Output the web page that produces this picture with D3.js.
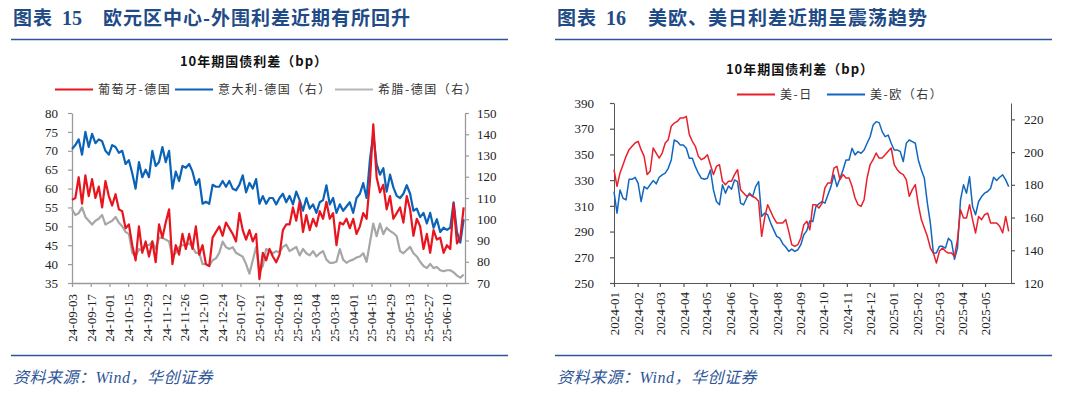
<!DOCTYPE html>
<html>
<head>
<meta charset="utf-8">
<script src="https://cdn.jsdelivr.net/npm/d3@7"></script>
<style>
  body { margin: 0; background: #fff; }
  svg { display: block; background: #fff; }
  .axis text { font-family: "Liberation Serif", "Times New Roman", serif; font-size: 13px; fill: #222; }
</style>
</head>
<body>
<div id="chartArea"></div>
<script>
// 图表15: 葡萄牙/意大利/希腊 - 德国 10年期利差
var leftStart = '2024-09-03', leftEnd = '2025-06-23', leftAxisEnd = '2025-06-24';
var leftTickLabels = ['24-09-03','24-09-17','24-10-01','24-10-15','24-10-29','24-11-12','24-11-26','24-12-10','24-12-24','25-01-07',
  '25-01-21','25-02-04','25-02-18','25-03-04','25-03-18','25-04-01','25-04-15','25-04-29','25-05-13','25-05-27','25-06-10'];
var ptDe = [57,57.5,63,56,63.5,58,62.5,57.5,60.5,55, 62,58,55.5,58.5,54.5,54,49.5,50.5,45,41,
  50,43,46,42,46,40.5,50.5,47,51,54.5, 40,45,42.5,48,44,48,44,50,42.5,45,
  40,39.5,47,48.5,50,47.5,51,49.5,48,46, 53.5,49,46.5,49,46,48,36,43,41,44,
  42,40.5,42.5,49,50.5,50.5,55,51.5,56.5,48.5, 53,49,52,50,54,52,56.5,52,53.5,45,
  51,50.5,52,49.5,52,48,50,53.5,52,62, 77,63,59,61,54.5,58,52,53.5,55,51,
  58,54.5,47.5,52,50,44,48,43,49,46.5, 47,43,45,44,56,45.5,47,55];
var itDe = [133.1,134.9,137.6,130.4,141.1,134,140.2,135.8,137.6,136.7, 132.2,130.4,134.9,134,131.3,132.2,126,127.8,121.6,114.4,
  126.9,119.8,123.3,119.8,132.2,125.1,126.9,134,126.9,132.2, 114.4,122.4,118,125.1,124.2,126,122.4,116.2,118.9,107.3,
  108.2,107.3,116.2,115.3,115.3,118,115.3,118,114.4,113.6, 116.2,120.7,112.7,117.1,114.4,118.9,107.3,110.9,107.3,110,
  110,107,110,112,108,111,107,113,109,104, 110,105,107,103,108,109,116,107,110,103,
  107,104,106,108,103,110,112,117,110,128, 140,126,121,124,113,121,115,111,110,112,
  116,112,104,105,101,103,98,103,96,100, 94,96,95,96,108,94,89,100];
var grDe = [104.7,102,102.9,105.6,101.1,99.3,97.5,99.3,100.2,102, 97.5,98.4,99.3,101.1,98.4,96.7,94,93.1,84.2,82.4,
  86,85.1,87.8,87.8,89.5,86,91.3,91.3,90.4,89.5, 82.4,84.2,86.9,87.8,87.8,88.7,86.9,84.2,84.2,78.9,
  78.9,78,80.7,81.6,84.2,89.5,86.9,86,86.9,84.2, 83.3,82.4,78.9,74.4,80.7,86.9,75.3,78,86,85.1,
  84,85,84.5,87,88,85,86,87,83,86, 84,83,85,82.5,84,85,81,79.5,79.5,80,
  86,81,79.5,80.5,81,82,82.5,84,80,89, 98,92,98,93,96,94.5,93.5,92,85,84,
  85.5,87,84,82.5,80,78,77,79,77,77.5, 76,75.5,76,76,75,73.5,72.5,74];
var leftTicksL = [35,40,45,50,55,60,65,70,75,80];
var leftTicksR = [70,80,90,100,110,120,130,140,150];

// 图表16: 美-日, 美-欧 10年期利差
var rightStart = '2024-01-01', rightEnd = '2025-06-01', rightAxisEnd = '2025-06-04';
var rightTickLabels = ['2024-01','2024-02','2024-03','2024-04','2024-05','2024-06','2024-07','2024-08','2024-09',
  '2024-10','2024-11','2024-12','2025-01','2025-02','2025-03','2025-04','2025-05'];
var usJp = [338.1,325.2,335.6,342,348.5,353.7,356.3,358.9,360.2,353.7, 348.5,334.3,336.9,355,351.1,347.2,351.1,358.9,361.5,371.9,
  374.4,375.7,378.3,378.3,379.6,365.4,360.2,356.3,348.5,345.9, 347.2,349.8,342,334.3,340.7,342,329.1,326.5,329.1,329.1,
  334.3,338.1,322.6,320,317.4,318.7,317.4,316.1,313.5,286.3, 300.6,310.9,305.7,300.6,296.7,296.7,296.7,299.3,290.2,279.8,
  278.5,279.8,285,295.4,298,291.5,
  310.9,310.9,308.3,311.7,323.9,327.8,327.8,339.4,340.7,330.4, 334.3,331.7,331.7,325.2,316.1,310.9,309.6,314.8,331.7,342,
  345.9,351.1,347.2,347.2,349.8,352.4,355,342,338.1,335.6, 334.3,330.4,317.4,322.6,326.5,310.9,299.3,292.8,286.3,277.2,
  273.3,265.6,274.6,277.2,274.6,273.3,273.3,270.7,283.7,307, 300.6,300.6,310.9,299.3,288.9,301.8,299.3,303.1,304.4,296.7,
  296.7,296.7,294.1,288.9,301.8,290.2];
var usEu = [175.9,162.7,176.9,171.8,170.8,183.4,183.4,184.6,181,169.8, 178.9,177.5,180,182.6,180.6,184.6,186.1,187.1,190.1,195.2,
  207.4,206.4,204.3,204.3,202.3,196.2,196.2,191.1,187.1,184, 183.4,184,189.1,176.9,169.8,167.8,180,174.9,179.3,177.3,
  183,182,168.8,167.8,171.8,174.9,172.8,178.9,182,160.7, 162.7,161.7,156.6,152.5,148.5,147.4,144,142,139.3,140.7,
  139.3,140.3,143.4,149.5,152,158,
  157.6,166.7,168.4,169.8,168.8,173.9,178.9,186.1,178.9,184, 189.1,195.2,195.2,202.3,198.3,200.3,199.3,201.3,205.4,209.4,
  216.5,218.6,218,212.5,209.4,210.4,205.4,201.3,201.3,200.3, 194.2,205.4,207.4,206.4,205.4,195.2,189.1,184,168.8,156.6,
  138.3,138.3,142.4,142.4,141.3,147.4,145.4,134.5,141.3,170.8, 180,174.9,185,166.7,161.7,169.8,172.8,174.9,175.9,177.9,
  184.6,182.6,184.6,186.1,183,178.9];
var rightTicksL = [250,270,290,310,330,350,370,390];
var rightTicksR = [120,140,160,180,200,220];

var config = {
  width: 1080,
  height: 397,
  navy: '#1f4b87',
  rule: '#2e5597',
  source: '#2f5597',
  red: '#e8141e',
  blue: '#0b63b8',
  gray: '#a6a6a6',
  cjk: '"Noto Sans CJK SC", "Noto Sans", sans-serif',
  serif: '"Liberation Serif", "Noto Sans CJK SC", serif'
};

var svg = d3.select('#chartArea')
  .append('svg')
  .attr('width', config.width)
  .attr('height', config.height);

var parseDay = d3.utcParse('%Y-%m-%d');

function spreadDates(a, b, n) {
  var t0 = parseDay(a).getTime(), t1 = parseDay(b).getTime();
  return d3.range(n).map(function(i) { return new Date(t0 + i * (t1 - t0) / (n - 1)); });
}

function header(x0, x1, num, title, numX, titleX) {
  svg.append('text').attr('x', x0 + 2).attr('y', 25)
    .attr('font-family', config.cjk).attr('font-weight', 'bold').attr('font-size', 19)
    .attr('letter-spacing', 1).attr('fill', config.navy).text('图表');
  svg.append('text').attr('x', numX).attr('y', 25)
    .attr('font-family', config.serif).attr('font-weight', 'bold').attr('font-size', 20)
    .attr('fill', config.navy).text(num);
  svg.append('text').attr('x', titleX).attr('y', 25)
    .attr('font-family', config.cjk).attr('font-weight', 'bold').attr('font-size', 19)
    .attr('letter-spacing', 1).attr('fill', config.navy).text(title);
  svg.append('line').attr('x1', x0).attr('x2', x1).attr('y1', 39.5).attr('y2', 39.5)
    .attr('stroke', config.rule).attr('stroke-width', 1.6);
  svg.append('line').attr('x1', x0).attr('x2', x1).attr('y1', 355.5).attr('y2', 355.5)
    .attr('stroke', config.rule).attr('stroke-width', 1.6);
  svg.append('text').attr('x', x0 + 2).attr('y', 383)
    .attr('font-family', config.serif).attr('font-style', 'italic').attr('font-size', 16)
    .attr('letter-spacing', 0.5).attr('fill', config.source).text('资料来源：Wind，华创证券');
}

function chartTitle(cx, y) {
  svg.append('text').attr('x', cx).attr('y', y).attr('text-anchor', 'middle')
    .attr('font-family', config.cjk).attr('font-weight', 'bold').attr('font-size', 13)
    .attr('letter-spacing', 1).attr('fill', '#111').text('10年期国债利差（bp）');
}

function legendItem(x, y, color, label) {
  svg.append('line').attr('x1', x).attr('x2', x + 38).attr('y1', y).attr('y2', y)
    .attr('stroke', color).attr('stroke-width', 2);
  svg.append('text').attr('x', x + 43).attr('y', y + 4.5)
    .attr('font-family', config.cjk).attr('font-size', 12).attr('letter-spacing', 1.5)
    .attr('fill', '#333').text(label);
}

function styleAxis(g, color) {
  g.attr('class', 'axis');
  g.select('.domain').attr('stroke', color).attr('stroke-width', 1.3);
  g.selectAll('.tick line').attr('stroke', color).attr('stroke-width', 1.2);
}

function drawLine(x, y, dates, values, color, w) {
  var line = d3.line()
    .x(function(d, i) { return x(dates[i]); })
    .y(function(d) { return y(d); });
  svg.append('path').datum(values)
    .attr('fill', 'none').attr('stroke', color).attr('stroke-width', w)
    .attr('stroke-linejoin', 'round').attr('d', line);
}

function leftChart() {
  var x = d3.scaleUtc().domain([parseDay(leftStart), parseDay(leftAxisEnd)]).range([72, 465]);
  var yL = d3.scaleLinear().domain([35, 80]).range([283, 113]);
  var yR = d3.scaleLinear().domain([70, 150]).range([283, 113]);
  var dates = spreadDates(leftStart, leftEnd, ptDe.length);
  var axisColor = '#9a9a9a';

  var gl = svg.append('g').attr('transform', 'translate(72,0)')
    .call(d3.axisLeft(yL).tickValues(leftTicksL).tickSize(4).tickSizeOuter(0).tickPadding(10));
  styleAxis(gl, axisColor);
  var gr = svg.append('g').attr('transform', 'translate(465,0)')
    .call(d3.axisRight(yR).tickValues(leftTicksR).tickSize(4).tickSizeOuter(0).tickPadding(8));
  styleAxis(gr, axisColor);
  var gx = svg.append('g').attr('transform', 'translate(0,283)')
    .call(d3.axisBottom(x)
      .tickValues(leftTickLabels.map(function(s) { return parseDay('20' + s); }))
      .tickFormat(function(d, i) { return leftTickLabels[i]; })
      .tickSize(4).tickSizeOuter(0));
  styleAxis(gx, axisColor);
  gx.selectAll('.tick text')
    .attr('transform', 'rotate(-90)')
    .attr('text-anchor', 'end')
    .attr('x', -11).attr('y', 0).attr('dy', '0.35em');

  drawLine(x, yR, dates, grDe, config.gray, 2.2);
  drawLine(x, yR, dates, itDe, config.blue, 2.2);
  drawLine(x, yL, dates, ptDe, config.red, 2.2);

  chartTitle(254, 66);
  legendItem(55, 89.5, config.red, '葡萄牙-德国');
  legendItem(175, 89.5, config.blue, '意大利-德国（右）');
  legendItem(335, 89.5, '#b5b5b5', '希腊-德国（右）');
}

function rightChart() {
  var x = d3.scaleUtc().domain([parseDay(rightStart), parseDay(rightAxisEnd)]).range([614, 1011]);
  var yL = d3.scaleLinear().domain([250, 390]).range([283, 103]);
  var yR = d3.scaleLinear().domain([120, 230]).range([283, 103]);
  var dates = spreadDates(rightStart, rightEnd, usJp.length);
  var axisColor = '#555';

  var gl = svg.append('g').attr('transform', 'translate(614,0)')
    .call(d3.axisLeft(yL).tickValues(rightTicksL).tickSize(4).tickSizeOuter(0).tickPadding(16));
  styleAxis(gl, axisColor);
  gl.select('.domain').attr('stroke-width', 1);
  var gr = svg.append('g').attr('transform', 'translate(1011,0)')
    .call(d3.axisRight(yR).tickValues(rightTicksR).tickSize(4).tickSizeOuter(0).tickPadding(9));
  styleAxis(gr, axisColor);
  gr.select('.domain').attr('stroke-width', 1);
  var gx = svg.append('g').attr('transform', 'translate(0,283)')
    .call(d3.axisBottom(x)
      .tickValues(rightTickLabels.map(function(s) { return parseDay(s + '-01'); }))
      .tickFormat(function(d, i) { return rightTickLabels[i]; })
      .tickSize(4).tickSizeOuter(0));
  styleAxis(gx, axisColor);
  gx.select('.domain').attr('stroke-width', 1);
  gx.selectAll('.tick text')
    .attr('transform', 'rotate(-90)')
    .attr('text-anchor', 'end')
    .attr('x', -9).attr('y', 0).attr('dy', '0.35em');

  drawLine(x, yR, dates, usEu, '#1167c0', 1.5);
  drawLine(x, yL, dates, usJp, '#e8202a', 1.5);

  chartTitle(800, 74);
  legendItem(737, 94.5, '#e8202a', '美-日');
  legendItem(827, 94.5, '#1167c0', '美-欧（右）');
}

function init() {
  header(11, 508, '15', '欧元区中心-外围利差近期有所回升', 62, 103);
  header(555, 1052, '16', '美欧、美日利差近期呈震荡趋势', 606, 648);
  leftChart();
  rightChart();
}

init();
</script>
</body>
</html>
